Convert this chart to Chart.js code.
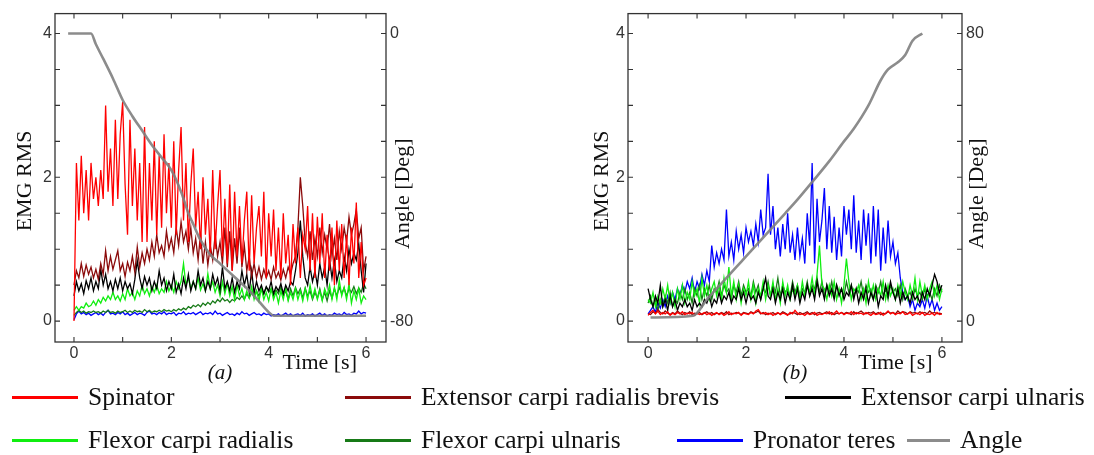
<!DOCTYPE html>
<html><head><meta charset="utf-8">
<script src="https://cdn.jsdelivr.net/npm/chart.js@4.4.1/dist/chart.umd.min.js"></script>
<style>
html,body{margin:0;padding:0;background:#fff;width:1094px;height:455px;overflow:hidden;}
canvas{position:absolute;top:0;}
#legend{position:absolute;left:0;top:0;width:1094px;height:455px;pointer-events:none;font-family:"Liberation Serif","Times New Roman",serif;font-size:25.5px;color:#111;}
.item{position:absolute;display:flex;align-items:center;white-space:nowrap;}
.sw{display:inline-block;height:3px;margin-right:10px;}
</style>
</head><body>
<canvas id="ca" width="547" height="455" style="left:0"></canvas>
<canvas id="cb" width="547" height="455" style="left:547px"></canvas>
<div id="legend"></div>
<script>
// ---------- DATA ----------
const sampleStep = 0.05; // s, EMG RMS sampling used for the traces below
const seriesNames = ["Spinator","Extensor carpi radialis brevis","Extensor carpi ulnaris","Flexor carpi radialis","Flexor carpi ulnaris","Pronator teres","Angle"];
const seriesColors = ["#ff0000","#8b0a0a","#000000","#10ee10","#177a17","#0000ff","#8c8c8c"];

// Panel (a)
const spinatorA = [
0.0,2.2,1.4,2.3,1.5,2.1,1.4,2.2,1.7,2.0,
1.6,2.1,1.7,3.0,1.8,2.4,1.6,2.8,1.7,2.6,
3.05,1.9,1.2,2.8,1.6,2.4,1.4,2.2,1.1,2.7,
1.1,2.2,1.4,2.5,1.2,2.3,1.3,2.6,1.5,2.2,
1.3,2.5,1.2,2.1,2.7,1.4,2.2,1.1,1.9,2.4,
1.3,1.8,1.0,2.0,1.2,1.7,0.9,2.1,1.0,1.6,
2.1,0.9,1.7,0.8,1.9,0.7,1.8,0.9,1.6,0.8,
1.4,1.8,0.7,1.75,0.8,1.3,1.6,0.9,1.8,0.6,
1.5,0.9,1.55,0.7,1.3,0.6,1.5,0.8,1.2,0.5,
1.35,0.8,1.3,0.6,1.2,1.0,1.6,0.7,1.5,0.6,
1.45,0.8,1.5,0.6,1.2,0.7,1.3,0.5,1.4,0.7,
1.35,0.6,1.2,0.5,1.3,0.8,1.65,0.6,1.1,0.5,
0.6];
const extRadBrevA = [
0.5,0.7,0.6,0.8,0.62,0.78,0.65,0.75,0.6,0.72,
0.58,0.8,0.65,0.98,0.7,0.9,0.72,0.85,0.98,0.7,
0.8,0.62,0.82,0.7,0.9,0.68,1.03,0.75,0.95,0.8,
1.0,0.85,1.1,0.9,1.2,0.95,1.05,0.9,1.25,1.0,
1.15,0.95,1.3,1.05,1.38,1.1,1.25,1.0,1.3,0.95,
1.15,0.85,1.22,0.8,1.1,0.78,1.05,0.85,1.2,0.9,
1.1,0.8,1.3,0.75,1.25,0.7,1.15,0.8,1.3,0.75,
1.05,0.7,0.9,0.62,0.8,0.6,0.75,0.58,0.72,0.6,
0.7,0.58,0.75,0.6,0.68,0.57,0.72,0.6,0.75,0.65,
0.8,0.9,1.3,2.0,1.6,1.1,0.9,1.25,0.85,1.15,
0.9,1.3,0.95,1.2,1.0,1.35,0.9,1.15,0.85,1.25,
1.0,1.3,1.1,1.45,1.2,1.35,1.55,1.15,1.3,0.7,
0.9];
const extUlnA = [
0.35,0.55,0.42,0.52,0.38,0.56,0.45,0.6,0.42,0.55,
0.45,0.72,0.5,0.65,0.45,0.55,0.42,0.58,0.45,0.6,
0.42,0.55,0.45,0.52,0.38,0.58,0.84,0.6,0.45,0.62,
0.5,0.6,0.42,0.55,0.45,0.7,0.5,0.6,0.42,0.55,
0.45,0.65,0.4,0.52,0.38,0.6,0.45,0.65,0.42,0.55,
0.45,0.7,0.5,0.6,0.42,0.55,0.45,0.65,0.5,0.6,
0.42,0.75,0.45,0.55,0.42,0.6,0.4,0.55,0.45,0.7,
0.5,0.65,0.4,0.7,0.39,0.55,0.42,0.5,0.38,0.48,
0.42,0.55,0.38,0.48,0.42,0.52,0.38,0.5,0.42,0.55,
0.5,0.7,0.95,1.4,0.9,0.6,0.5,0.75,0.55,0.7,
0.5,0.8,0.6,0.75,0.5,0.85,0.6,0.85,0.55,0.7,
0.6,0.9,0.7,1.0,0.8,0.95,0.85,1.08,0.7,0.4,
0.8];
const flexRadA = [
0.15,0.2,0.15,0.2,0.18,0.25,0.2,0.22,0.28,0.22,
0.3,0.25,0.33,0.28,0.35,0.3,0.4,0.3,0.35,0.28,
0.38,0.3,0.45,0.35,0.4,0.3,0.42,0.35,0.5,0.38,
0.45,0.35,0.48,0.4,0.5,0.38,0.45,0.4,0.55,0.42,
0.5,0.4,0.55,0.45,0.55,0.8,0.5,0.6,0.45,0.55,
0.45,0.6,0.43,0.52,0.42,0.66,0.45,0.55,0.4,0.5,
0.35,0.55,0.38,0.52,0.35,0.48,0.3,0.5,0.35,0.45,
0.3,0.42,0.32,0.48,0.3,0.42,0.28,0.45,0.3,0.4,
0.28,0.45,0.3,0.4,0.25,0.42,0.3,0.47,0.28,0.4,
0.3,0.45,0.3,0.42,0.28,0.45,0.3,0.5,0.32,0.45,
0.3,0.42,0.28,0.45,0.35,0.5,0.3,0.47,0.3,0.57,
0.35,0.47,0.3,0.52,0.25,0.42,0.3,0.45,0.25,0.35,
0.3];
const flexUlnA = [
0.08,0.12,0.15,0.12,0.14,0.11,0.13,0.12,0.14,0.12,
0.13,0.11,0.14,0.12,0.15,0.12,0.13,0.11,0.14,0.12,
0.13,0.15,0.12,0.14,0.12,0.15,0.13,0.14,0.12,0.16,
0.13,0.15,0.12,0.14,0.13,0.15,0.13,0.16,0.14,0.15,
0.13,0.16,0.14,0.17,0.15,0.18,0.16,0.2,0.18,0.22,
0.2,0.23,0.2,0.25,0.22,0.26,0.23,0.28,0.25,0.3,
0.27,0.32,0.28,0.3,0.26,0.3,0.28,0.33,0.3,0.35,
0.3,0.38,0.32,0.4,0.34,0.42,0.35,0.45,0.38,0.47,
0.4,0.45,0.35,0.43,0.38,0.47,0.35,0.42,0.3,0.45,
0.35,0.47,0.38,0.45,0.32,0.46,0.35,0.42,0.3,0.4,
0.32,0.45,0.3,0.4,0.28,0.42,0.32,0.45,0.35,0.47,
0.38,0.46,0.35,0.45,0.4,0.48,0.38,0.46,0.4,0.52,
0.45];
const pronatorA = [
0.02,0.1,0.14,0.1,0.12,0.09,0.11,0.08,0.1,0.12,
0.09,0.11,0.08,0.12,0.15,0.1,0.11,0.09,0.12,0.1,
0.13,0.09,0.11,0.08,0.1,0.12,0.09,0.11,0.1,0.08,
0.12,0.14,0.1,0.11,0.09,0.12,0.1,0.13,0.09,0.11,
0.1,0.12,0.08,0.11,0.1,0.13,0.09,0.11,0.1,0.12,
0.09,0.11,0.13,0.09,0.11,0.1,0.12,0.09,0.14,0.1,
0.11,0.08,0.1,0.12,0.09,0.1,0.08,0.11,0.09,0.13,
0.1,0.11,0.08,0.1,0.12,0.09,0.1,0.08,0.11,0.09,
0.1,0.07,0.09,0.08,0.1,0.07,0.09,0.11,0.08,0.1,
0.07,0.09,0.1,0.08,0.11,0.07,0.09,0.08,0.1,0.07,
0.09,0.11,0.08,0.1,0.07,0.09,0.08,0.11,0.09,0.1,
0.08,0.12,0.09,0.1,0.08,0.11,0.1,0.14,0.1,0.12,
0.11];
const angleTimeA = [-0.12,0.35,0.45,0.6,0.8,1.0,1.2,1.4,1.6,1.8,2.0,2.2,2.35,2.45,2.6,2.8,3.0,3.2,3.4,3.6,3.8,4.0,4.1,6.0];
const angleValA  = [0,0,-3,-7,-12.5,-18.5,-23,-27,-31,-34.5,-38,-44,-50,-53,-57.5,-61.5,-64,-66.5,-69,-71.5,-74.5,-77.5,-78.5,-78.5];

// Panel (b)
const spinatorB = [
0.08,0.12,0.15,0.1,0.14,0.09,0.12,0.1,0.13,0.08,
0.11,0.09,0.12,0.1,0.13,0.09,0.11,0.1,0.12,0.08,
0.11,0.09,0.1,0.12,0.09,0.11,0.08,0.1,0.12,0.09,
0.11,0.08,0.1,0.13,0.09,0.11,0.1,0.12,0.08,0.11,
0.1,0.09,0.12,0.1,0.14,0.16,0.11,0.1,0.12,0.09,
0.11,0.08,0.1,0.12,0.09,0.11,0.1,0.08,0.12,0.1,
0.15,0.11,0.09,0.1,0.08,0.11,0.09,0.1,0.12,0.08,
0.1,0.09,0.11,0.1,0.13,0.09,0.11,0.14,0.1,0.12,
0.09,0.11,0.1,0.13,0.09,0.12,0.1,0.11,0.09,0.12,
0.1,0.08,0.11,0.09,0.1,0.12,0.08,0.11,0.14,0.1,
0.12,0.09,0.11,0.1,0.13,0.09,0.1,0.12,0.08,0.1,
0.11,0.09,0.12,0.08,0.1,0.09,0.11,0.08,0.12,0.09,
0.1];
const extRadBrevB = [
0.1,0.09,0.13,0.11,0.16,0.12,0.1,0.14,0.11,0.09,
0.12,0.1,0.14,0.11,0.09,0.12,0.1,0.13,0.09,0.11,
0.1,0.12,0.09,0.11,0.13,0.1,0.12,0.09,0.11,0.1,
0.12,0.1,0.13,0.09,0.11,0.1,0.12,0.11,0.09,0.12,
0.11,0.1,0.13,0.11,0.12,0.14,0.1,0.12,0.09,0.11,
0.1,0.12,0.09,0.11,0.1,0.13,0.11,0.09,0.1,0.12,
0.11,0.09,0.12,0.1,0.11,0.13,0.1,0.12,0.09,0.11,
0.12,0.1,0.11,0.13,0.1,0.12,0.09,0.11,0.1,0.12,
0.1,0.12,0.11,0.09,0.13,0.1,0.12,0.14,0.11,0.1,
0.12,0.11,0.13,0.1,0.12,0.09,0.11,0.1,0.13,0.11,
0.12,0.1,0.14,0.11,0.13,0.12,0.1,0.13,0.11,0.12,
0.1,0.13,0.11,0.12,0.1,0.14,0.11,0.12,0.1,0.11,
0.1];
const extUlnB = [
0.45,0.3,0.2,0.35,0.25,0.5,0.2,0.3,0.15,0.35,
0.2,0.3,0.15,0.25,0.2,0.3,0.2,0.25,0.15,0.3,
0.2,0.25,0.2,0.3,0.25,0.35,0.2,0.3,0.25,0.4,
0.25,0.35,0.3,0.4,0.25,0.35,0.3,0.45,0.3,0.4,
0.25,0.4,0.3,0.35,0.25,0.4,0.3,0.45,0.6,0.35,
0.3,0.45,0.25,0.4,0.3,0.45,0.25,0.4,0.3,0.5,
0.3,0.45,0.25,0.4,0.3,0.5,0.35,0.45,0.3,0.55,
0.35,0.45,0.3,0.5,0.35,0.45,0.3,0.5,0.35,0.45,
0.3,0.4,0.35,0.5,0.3,0.45,0.25,0.4,0.3,0.45,
0.25,0.4,0.3,0.45,0.2,0.35,0.3,0.5,0.35,0.55,
0.4,0.3,0.45,0.25,0.4,0.3,0.35,0.25,0.4,0.3,
0.35,0.25,0.4,0.3,0.45,0.35,0.5,0.65,0.55,0.4,
0.5];
const flexRadB = [
0.3,0.25,0.4,0.2,0.35,0.25,0.45,0.3,0.5,0.25,
0.4,0.2,0.45,0.3,0.5,0.25,0.4,0.3,0.55,0.35,
0.45,0.25,0.6,0.35,0.5,0.3,0.45,0.55,0.35,0.5,
0.3,0.6,0.4,0.75,0.35,0.55,0.3,0.5,0.25,0.45,
0.35,0.55,0.3,0.5,0.25,0.45,0.35,0.55,0.3,0.5,
0.35,0.55,0.3,0.45,0.25,0.55,0.35,0.5,0.3,0.45,
0.35,0.5,0.3,0.55,0.35,0.5,0.4,0.6,0.35,0.65,
1.05,0.5,0.45,0.3,0.5,0.35,0.55,0.3,0.45,0.25,
0.5,0.87,0.55,0.3,0.45,0.4,0.5,0.3,0.45,0.25,
0.55,0.35,0.5,0.3,0.45,0.35,0.55,0.3,0.5,0.35,
0.45,0.3,0.5,0.35,0.55,0.4,0.3,0.5,0.35,0.6,
0.3,0.55,0.35,0.5,0.3,0.45,0.55,0.35,0.5,0.3,
0.45];
const flexUlnB = [
0.25,0.35,0.2,0.3,0.15,0.3,0.2,0.35,0.25,0.4,
0.2,0.3,0.25,0.4,0.3,0.45,0.3,0.4,0.25,0.45,
0.35,0.5,0.3,0.45,0.35,0.5,0.3,0.45,0.4,0.55,
0.35,0.5,0.4,0.45,0.3,0.5,0.4,0.55,0.35,0.5,
0.4,0.45,0.35,0.55,0.4,0.5,0.3,0.45,0.4,0.55,
0.35,0.5,0.4,0.6,0.35,0.5,0.4,0.45,0.35,0.55,
0.4,0.5,0.35,0.45,0.4,0.55,0.35,0.5,0.45,0.6,
0.4,0.55,0.35,0.5,0.4,0.55,0.35,0.5,0.4,0.45,
0.35,0.55,0.4,0.5,0.35,0.45,0.4,0.55,0.35,0.5,
0.4,0.45,0.3,0.5,0.4,0.55,0.35,0.45,0.3,0.5,
0.4,0.45,0.35,0.5,0.3,0.45,0.35,0.4,0.3,0.45,
0.35,0.4,0.3,0.45,0.35,0.4,0.3,0.45,0.35,0.5,
0.4];
const pronatorB = [
0.1,0.15,0.2,0.12,0.25,0.18,0.3,0.2,0.35,0.25,
0.4,0.3,0.45,0.35,0.5,0.4,0.55,0.45,0.6,0.4,
0.55,0.45,0.65,0.5,0.7,0.55,1.05,0.75,0.95,0.8,
1.0,0.85,1.55,0.9,1.1,0.85,1.25,1.0,1.2,0.95,
1.3,1.1,1.25,1.05,1.35,1.1,1.55,1.2,1.3,2.05,
1.2,1.6,1.0,1.3,0.9,1.35,1.0,1.5,0.95,1.2,
0.85,1.3,0.9,1.15,0.8,1.5,1.05,2.2,0.8,1.7,
1.1,1.4,1.85,1.0,1.6,0.95,1.45,0.85,1.3,0.9,
1.6,1.2,1.55,1.0,1.75,0.95,1.4,0.85,1.55,1.05,
1.5,0.8,1.6,0.9,1.55,0.7,1.3,0.8,1.4,0.9,
1.1,0.8,0.95,0.6,0.4,0.3,0.35,0.2,0.3,0.15,
0.25,0.2,0.3,0.18,0.35,0.2,0.3,0.15,0.25,0.15,
0.2];
const angleTimeB = [0.05,0.92,1.2,1.5,1.8,2.0,2.4,2.8,3.0,3.37,3.7,4.0,4.2,4.5,4.75,4.9,5.1,5.25,5.4,5.6];
const angleValB  = [1,1.5,6,10.5,15,18,24,30,33,39,44.5,50,53.5,60,67,70,72,74,78,80];

// Axes
const xTicks = [0,1,2,3,4,5,6];
const xLabels = [0,2,4,6];
const emgTicks = [0,0.5,1,1.5,2,2.5,3,3.5,4];
const emgLabels = [0,2,4];
const angleTicksA = [-80,-70,-60,-50,-40,-30,-20,-10,0];
const angleLabelsA = [-80,0];
const angleTicksB = [0,10,20,30,40,50,60,70,80];
const angleLabelsB = [0,80];

// ---------- BUILD ----------
const toXY = arr => arr.map((v,i)=>({x: Math.round(i*sampleStep*100)/100, y: v}));
const pair = (t,v) => t.map((x,i)=>({x, y: v[i]}));

function datasets(emg, angT, angV){
  const ds = [{label: seriesNames[6], data: pair(angT, angV), borderColor: 'rgba(128,128,128,0.9)', borderWidth: 2.6, yAxisID: 'y1', cubicInterpolationMode: 'monotone'}];
  emg.forEach((arr,i)=>ds.push({label: seriesNames[i], data: toXY(arr), borderColor: seriesColors[i], borderWidth: 1.3, yAxisID: 'y', tension: 0}));
  return ds.map(d=>Object.assign(d,{pointRadius:0, fill:false}));
}

const tickFont = {family: '"Liberation Sans", Arial, sans-serif', size: 16};
const tickColor = '#333';

const framePlugin = {
  id: 'frame',
  afterDraw(chart, args, o) {
    const {ctx, chartArea: a, scales} = chart;
    ctx.save();
    ctx.strokeStyle = '#333'; ctx.lineWidth = 1.3;
    ctx.strokeRect(a.left, a.top, a.right - a.left, a.bottom - a.top);
    const L = 5;
    ctx.lineWidth = 1.1;
    ctx.beginPath();
    scales.x.ticks.forEach(t=>{ const p = scales.x.getPixelForValue(t.value);
      ctx.moveTo(p, a.bottom); ctx.lineTo(p, a.bottom - L);
      ctx.moveTo(p, a.top); ctx.lineTo(p, a.top + L); });
    scales.y.ticks.forEach(t=>{ const p = scales.y.getPixelForValue(t.value);
      ctx.moveTo(a.left, p); ctx.lineTo(a.left + L, p); });
    scales.y1.ticks.forEach(t=>{ const p = scales.y1.getPixelForValue(t.value);
      ctx.moveTo(a.right, p); ctx.lineTo(a.right - L, p); });
    ctx.stroke();
    ctx.fillStyle = '#111';
    ctx.font = '22px "Liberation Serif", "Times New Roman", serif';
    ctx.textAlign = 'center'; ctx.textBaseline = 'middle';
    ctx.fillText('Time [s]', scales.x.getPixelForValue(5.05), a.bottom + 21);
    ctx.font = 'italic 21px "Liberation Serif", "Times New Roman", serif';
    ctx.fillText(o.tag, scales.x.getPixelForValue(3.0), a.bottom + 31);
    ctx.font = '22px "Liberation Serif", "Times New Roman", serif';
    ctx.save(); ctx.translate(a.left - o.leftTitle, scales.y.getPixelForValue(1.95)); ctx.rotate(-Math.PI/2);
    ctx.fillText('EMG RMS', 0, 0); ctx.restore();
    ctx.save(); ctx.translate(a.right + o.rightTitle, scales.y.getPixelForValue(1.77)); ctx.rotate(-Math.PI/2);
    ctx.fillText('Angle [Deg]', 0, 0); ctx.restore();
    ctx.restore();
  }
};

function makeChart(id, emg, angT, angV, cfg){
  return new Chart(document.getElementById(id), {
    type: 'line',
    data: {datasets: datasets(emg, angT, angV)},
    options: {
      responsive: false, animation: false, devicePixelRatio: 1,
      layout: {padding: {top: 12, left: 0, right: 0, bottom: 0}},
      plugins: {legend: {display: false}, tooltip: {enabled: false}, frame: {tag: cfg.tag, leftTitle: cfg.leftTitle, rightTitle: cfg.rightTitle}},
      scales: {
        x: {type: 'linear', min: cfg.xmin, max: cfg.xmax,
            afterBuildTicks: s => { s.ticks = xTicks.map(v=>({value:v})); },
            afterFit: s => { s.height = 455 - 342; },
            ticks: {autoSkip: false, maxRotation: 0, padding: 2, font: tickFont, color: tickColor,
                    callback: v => xLabels.includes(v) ? String(v) : ''},
            grid: {display: false, drawTicks: false}, border: {display: false}},
        y: {type: 'linear', position: 'left', min: -0.291, max: 4.277,
            afterBuildTicks: s => { s.ticks = emgTicks.map(v=>({value:v})); },
            afterFit: s => { s.width = cfg.leftW; },
            ticks: {autoSkip: false, padding: 3, font: tickFont, color: tickColor,
                    callback: v => emgLabels.includes(v) ? String(v) : ''},
            grid: {display: false, drawTicks: false}, border: {display: false}},
        y1: {type: 'linear', position: 'right', min: cfg.amin, max: cfg.amax,
            afterBuildTicks: s => { s.ticks = cfg.aTicks.map(v=>({value:v})); },
            afterFit: s => { s.width = cfg.rightW; },
            ticks: {autoSkip: false, padding: 4, font: tickFont, color: tickColor,
                    callback: v => cfg.aLabels.includes(v) ? String(v) : ''},
            grid: {display: false, drawTicks: false}, border: {display: false}}
      }
    },
    plugins: [framePlugin]
  });
}

makeChart('ca', [spinatorA, extRadBrevA, extUlnA, flexRadA, flexUlnA, pronatorA], angleTimeA, angleValA,
  {tag: '(a)', xmin: -0.39, xmax: 6.41, leftW: 55, rightW: 547 - 386, amin: -85.81, amax: 5.54,
   aTicks: angleTicksA, aLabels: angleLabelsA, leftTitle: 30, rightTitle: 17});
makeChart('cb', [spinatorB, extRadBrevB, extUlnB, flexRadB, flexUlnB, pronatorB], angleTimeB, angleValB,
  {tag: '(b)', xmin: -0.41, xmax: 6.41, leftW: 628 - 547, rightW: 1094 - 962, amin: -5.81, amax: 85.54,
   aTicks: angleTicksB, aLabels: angleLabelsB, leftTitle: 26, rightTitle: 15});

const legendSlots = [
  {left: 12, top: 397, w: 66}, {left: 345, top: 397, w: 66}, {left: 785, top: 397, w: 66},
  {left: 12, top: 440, w: 66}, {left: 345, top: 440, w: 66}, {left: 677, top: 440, w: 66}, {left: 907, top: 440, w: 43}
];
const lg = document.getElementById('legend');
seriesNames.forEach((n,i)=>{
  const s = legendSlots[i];
  const d = document.createElement('div'); d.className = 'item';
  d.style.left = s.left + 'px'; d.style.top = (s.top - 15) + 'px'; d.style.height = '30px';
  const sw = document.createElement('span'); sw.className = 'sw'; sw.style.width = s.w + 'px'; sw.style.background = seriesColors[i];
  const tx = document.createElement('span'); tx.textContent = n;
  d.appendChild(sw); d.appendChild(tx); lg.appendChild(d);
});
</script>
</body></html>
